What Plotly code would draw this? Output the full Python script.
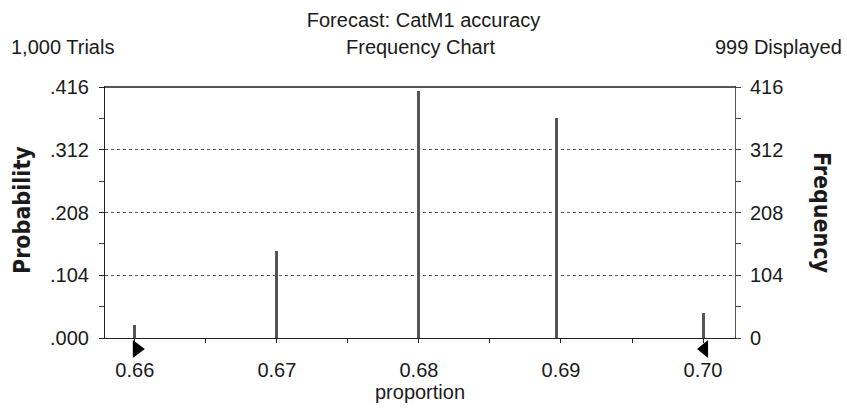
import plotly.graph_objects as go

# Data
proportion = [0.66, 0.67, 0.68, 0.6897, 0.70]
frequency = [21, 144, 410, 364, 41]
trials = 1000
displayed = 999
y_max_freq = 416
prob_ticks = [0.000, 0.104, 0.208, 0.312, 0.416]
prob_labels = [".000", ".104", ".208", ".312", ".416"]
freq_ticks = [0, 104, 208, 312, 416]
x_ticks = [0.66, 0.67, 0.68, 0.69, 0.70]
x_labels = ["0.66", "0.67", "0.68", "0.69", "0.70"]
lower_bound = 0.66
upper_bound = 0.70

FONT = "Liberation Sans, Arial, sans-serif"
BOLDFONT = "DejaVu Sans Condensed, Liberation Sans Narrow, sans-serif"
TXT = "#1a1a1a"
FS = 20

fig = go.Figure()
fig.add_trace(go.Bar(
    x=proportion, y=frequency, yaxis="y2",
    width=0.00021, marker=dict(color="#555555", line=dict(width=0)),
    showlegend=False, hoverinfo="x+y",
))
fig.add_trace(go.Scatter(x=[proportion[0]], y=[0], mode="markers",
                         marker=dict(opacity=0), showlegend=False, hoverinfo="skip"))

fig.update_layout(
    width=847, height=410,
    margin=dict(l=105, r=112, t=87, b=72),
    paper_bgcolor="white", plot_bgcolor="white",
    font=dict(family=FONT, size=FS, color=TXT),
    bargap=0,
    title=dict(text="Forecast: CatM1 accuracy", x=0.5, xref="container", xanchor="center",
               y=1 - 20 / 410, yref="container", yanchor="middle",
               font=dict(family=FONT, size=FS, color=TXT)),
    xaxis=dict(
        range=[0.6579, 0.70225], tickvals=x_ticks, ticktext=x_labels,
        showline=True, linecolor="#222", linewidth=1, mirror=True,
        ticks="outside", ticklen=4, tickcolor="#222", ticklabelstandoff=10,
        minor=dict(dtick=0.005, tick0=0.66, ticks="outside", ticklen=4, tickcolor="#222", showgrid=False),
        showgrid=False, zeroline=False,
        title=dict(text="proportion", font=dict(size=FS, family=FONT), standoff=0),
        tickfont=dict(size=FS),
    ),
    yaxis=dict(
        range=[0, 0.416], tickvals=prob_ticks, ticktext=prob_labels,
        showline=True, linecolor="#222", linewidth=1,
        ticks="outside", ticklen=5, tickcolor="#222", ticklabelstandoff=6,
        minor=dict(dtick=0.052, tick0=0, ticks="outside", ticklen=5, tickcolor="#444", showgrid=False),
        showgrid=True, gridcolor="#555", griddash="dot", gridwidth=1,
        zeroline=False, tickfont=dict(size=FS),
    ),
    yaxis2=dict(
        range=[0, y_max_freq], tickvals=freq_ticks, overlaying="y", side="right",
        showline=True, linecolor="#555", linewidth=1,
        ticks="outside", ticklen=5, tickcolor="#444", ticklabelstandoff=5,
        minor=dict(dtick=52, tick0=0, ticks="outside", ticklen=5, tickcolor="#444", showgrid=False),
        showgrid=False, zeroline=False, tickfont=dict(size=FS),
    ),
)

# thicker top frame line
fig.add_shape(type="line", xref="paper", yref="paper", x0=0, x1=1, y0=1, y1=1,
              line=dict(color="#555", width=2))

row_y = (338 - 47) / 251
ann = [
    dict(text=f"{trials:,} Trials", x=(9 - 105) / 630, y=row_y, xanchor="left"),
    dict(text="Frequency Chart", x=(420 - 105) / 630, y=row_y, xanchor="center"),
    dict(text=f"{displayed} Displayed", x=(844 - 105) / 630, y=row_y, xanchor="right"),
]
for a in ann:
    fig.add_annotation(xref="paper", yref="paper", yanchor="middle", showarrow=False,
                       font=dict(family=FONT, size=FS, color=TXT), **a)

fig.add_annotation(text="<b>Probability</b>", xref="paper", yref="paper",
                   x=(22 - 105) / 630, y=(338 - 210) / 251, textangle=-90, showarrow=False,
                   xanchor="center", yanchor="middle",
                   font=dict(family=BOLDFONT, size=23, color=TXT))
fig.add_annotation(text="<b>Frequency</b>", xref="paper", yref="paper",
                   x=(822 - 105) / 630, y=(338 - 212) / 251, textangle=90, showarrow=False,
                   xanchor="center", yanchor="middle",
                   font=dict(family=BOLDFONT, size=23, color=TXT))

# certainty range markers (pixel-sized triangles anchored at the bounds, below the axis)
fig.add_shape(type="path", xref="x", yref="paper", xsizemode="pixel", ysizemode="pixel",
              xanchor=lower_bound, yanchor=0, path="M-2,-2 L-2,-20 L10,-11 Z",
              fillcolor="black", line=dict(width=0), layer="above")
fig.add_shape(type="path", xref="x", yref="paper", xsizemode="pixel", ysizemode="pixel",
              xanchor=upper_bound, yanchor=0, path="M5,-2 L5,-20 L-6,-11 Z",
              fillcolor="black", line=dict(width=0), layer="above")

fig.write_html("out.html")
